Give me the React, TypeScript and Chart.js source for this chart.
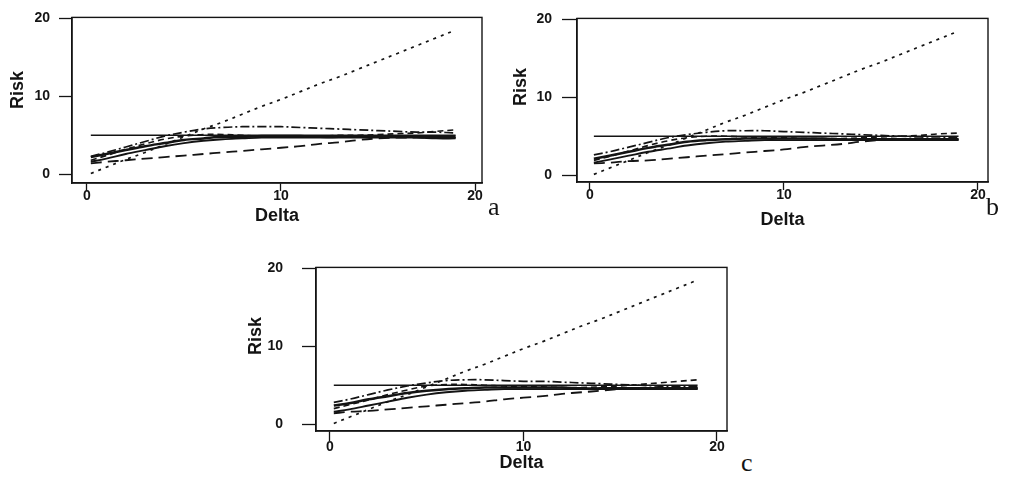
import React, { useEffect, useRef } from "react";
import { Chart, registerables } from "chart.js";

Chart.register(...registerables);

// ---------- data ----------
const deltaValues = [0.2, 1, 2, 3, 4, 5, 6, 7, 8, 9, 10, 11, 12, 13, 14, 15, 16, 17, 18, 19];
const xTickValues = [0, 10, 20];
const yTickValues = [0, 10, 20];
const xTitle = "Delta";
const yTitle = "Risk";
const panelLetters = ["a", "b", "c"];

// panel a
const aConstant = [5, 5, 5, 5, 5, 5, 5, 5, 5, 5, 5, 5, 5, 5, 5, 5, 5, 5, 5, 5];
const aDotted = [0.1, 0.9, 1.9, 2.8, 3.8, 4.8, 5.8, 6.7, 7.7, 8.7, 9.6, 10.6, 11.6, 12.5, 13.5, 14.5, 15.5, 16.5, 17.5, 18.5];
const aDashDot = [2.3, 2.8, 3.5, 4.2, 4.9, 5.4, 5.8, 6.0, 6.1, 6.1, 6.1, 6.0, 5.9, 5.8, 5.7, 5.6, 5.5, 5.4, 5.4, 5.3];
const aLongDash = [1.4, 1.6, 1.8, 2.0, 2.2, 2.4, 2.6, 2.8, 3.0, 3.2, 3.4, 3.6, 3.9, 4.1, 4.4, 4.6, 4.7, 4.7, 4.7, 4.7];
const aSolidUpper = [2.2, 2.6, 3.1, 3.6, 4.0, 4.4, 4.6, 4.8, 4.8, 4.9, 4.9, 4.9, 4.8, 4.8, 4.8, 4.8, 4.8, 4.8, 4.8, 4.8];
const aSolidLower = [1.6, 2.0, 2.6, 3.1, 3.6, 4.0, 4.3, 4.5, 4.6, 4.7, 4.7, 4.7, 4.7, 4.7, 4.7, 4.7, 4.7, 4.7, 4.6, 4.6];
const aShortDash = [1.8, 2.4, 3.2, 3.9, 4.5, 4.9, 5.1, 5.1, 5.0, 4.9, 4.9, 4.9, 4.9, 5.0, 5.0, 5.1, 5.2, 5.3, 5.5, 5.7];

// panel b
const bConstant = [5, 5, 5, 5, 5, 5, 5, 5, 5, 5, 5, 5, 5, 5, 5, 5, 5, 5, 5, 5];
const bDotted = [0.1, 0.9, 1.9, 2.9, 3.8, 4.8, 5.8, 6.8, 7.7, 8.7, 9.7, 10.6, 11.6, 12.6, 13.6, 14.5, 15.5, 16.5, 17.5, 18.5];
const bDashDot = [2.6, 3.0, 3.6, 4.2, 4.8, 5.2, 5.5, 5.7, 5.7, 5.7, 5.6, 5.5, 5.4, 5.3, 5.2, 5.1, 5.0, 4.9, 4.9, 4.8];
const bLongDash = [1.5, 1.6, 1.8, 1.9, 2.1, 2.3, 2.5, 2.7, 2.9, 3.1, 3.3, 3.6, 3.8, 4.0, 4.3, 4.5, 4.6, 4.6, 4.6, 4.6];
const bSolidUpper = [2.1, 2.5, 3.0, 3.5, 3.9, 4.3, 4.5, 4.6, 4.7, 4.7, 4.7, 4.7, 4.7, 4.6, 4.6, 4.6, 4.6, 4.6, 4.6, 4.6];
const bSolidLower = [1.6, 2.0, 2.5, 3.0, 3.4, 3.8, 4.1, 4.3, 4.4, 4.5, 4.5, 4.5, 4.5, 4.5, 4.5, 4.5, 4.5, 4.5, 4.5, 4.5];
const bShortDash = [1.9, 2.4, 3.1, 3.8, 4.4, 4.8, 5.0, 5.0, 4.9, 4.8, 4.8, 4.7, 4.7, 4.7, 4.8, 4.9, 5.0, 5.1, 5.3, 5.4];

// panel c
const cConstant = [5, 5, 5, 5, 5, 5, 5, 5, 5, 5, 5, 5, 5, 5, 5, 5, 5, 5, 5, 5];
const cDotted = [0.1, 0.9, 1.9, 2.9, 3.8, 4.8, 5.8, 6.8, 7.7, 8.7, 9.7, 10.6, 11.6, 12.6, 13.5, 14.5, 15.5, 16.5, 17.5, 18.5];
const cDashDot = [2.8, 3.2, 3.8, 4.4, 4.9, 5.3, 5.6, 5.7, 5.7, 5.6, 5.5, 5.5, 5.4, 5.3, 5.2, 5.1, 5.0, 4.9, 4.8, 4.8];
const cLongDash = [1.4, 1.6, 1.7, 1.9, 2.1, 2.3, 2.5, 2.7, 2.9, 3.2, 3.4, 3.6, 3.9, 4.1, 4.3, 4.5, 4.6, 4.6, 4.6, 4.6];
const cSolidUpper = [2.4, 2.7, 3.2, 3.6, 4.0, 4.3, 4.5, 4.6, 4.7, 4.7, 4.7, 4.7, 4.7, 4.6, 4.6, 4.6, 4.6, 4.6, 4.6, 4.6];
const cSolidLower = [1.6, 1.9, 2.4, 2.9, 3.4, 3.8, 4.1, 4.3, 4.4, 4.5, 4.5, 4.5, 4.5, 4.5, 4.5, 4.5, 4.5, 4.5, 4.5, 4.5];
const cShortDash = [2.0, 2.5, 3.1, 3.8, 4.4, 4.9, 5.1, 5.1, 5.0, 4.9, 4.8, 4.8, 4.7, 4.7, 4.8, 4.9, 5.1, 5.3, 5.5, 5.7];

// ---------- styling ----------
const INK = "#141414";
const SANS = "'Liberation Sans', Arial, sans-serif";

type SeriesSet = {
  constant: number[];
  dotted: number[];
  dashDot: number[];
  longDash: number[];
  solidUpper: number[];
  solidLower: number[];
  shortDash: number[];
};

type Layout = {
  left: number; top: number; width: number; height: number;
  boxLeft: number; boxTop: number; boxRight: number; boxBottom: number;
  xMin: number; xMax: number; yMin: number; yMax: number;
  yTickLen: number; yTickPad: number; xTickLen: number; xTickPad: number;
  yTitleX: number; yTitleY: number; xTitlePad: number;
  letterLeft: number; letterTop: number;
};

const panelSeries: SeriesSet[] = [
  { constant: aConstant, dotted: aDotted, dashDot: aDashDot, longDash: aLongDash, solidUpper: aSolidUpper, solidLower: aSolidLower, shortDash: aShortDash },
  { constant: bConstant, dotted: bDotted, dashDot: bDashDot, longDash: bLongDash, solidUpper: bSolidUpper, solidLower: bSolidLower, shortDash: bShortDash },
  { constant: cConstant, dotted: cDotted, dashDot: cDashDot, longDash: cLongDash, solidUpper: cSolidUpper, solidLower: cSolidLower, shortDash: cShortDash },
];

// yTitleX / yTitleY are page coordinates of the centre of the rotated "Risk" title
const panelLayouts: Layout[] = [
  { left: 0, top: 0, width: 500, height: 232, boxLeft: 72, boxTop: 12, boxRight: 482, boxBottom: 183,
    xMin: -0.77, xMax: 20.36, yMin: -1.12, yMax: 20.12, yTickLen: 13, yTickPad: 9, xTickLen: 8, xTickPad: -3,
    yTitleX: 18, yTitleY: 90, xTitlePad: 5, letterLeft: 488, letterTop: 194 },
  { left: 490, top: 0, width: 510, height: 232, boxLeft: 577, boxTop: 15, boxRight: 988, boxBottom: 182,
    xMin: -0.67, xMax: 20.52, yMin: -0.88, yMax: 20.13, yTickLen: 15, yTickPad: 10, xTickLen: 8, xTickPad: -3,
    yTitleX: 521, yTitleY: 87, xTitlePad: 1, letterLeft: 986, letterTop: 194 },
  { left: 240, top: 240, width: 500, height: 237, boxLeft: 316, boxTop: 262, boxRight: 727, boxBottom: 431,
    xMin: -0.72, xMax: 20.52, yMin: -0.87, yMax: 20.12, yTickLen: 14, yTickPad: 19, xTickLen: 10, xTickPad: -2,
    yTitleX: 256, yTitleY: 336, xTitlePad: 3, letterLeft: 741, letterTop: 450 },
];

const framePlugin = {
  id: "frameBox",
  afterDatasetsDraw(chart: any) {
    const { ctx, chartArea } = chart;
    ctx.save();
    ctx.strokeStyle = INK;
    ctx.lineWidth = 1.4;
    ctx.strokeRect(chartArea.left, chartArea.top, chartArea.right - chartArea.left, chartArea.bottom - chartArea.top);
    ctx.restore();
  },
};

function makeYTitlePlugin(L: Layout) {
  return {
    id: "yTitle",
    afterDraw(chart: any) {
      const { ctx } = chart;
      ctx.save();
      ctx.translate(L.yTitleX - L.left, L.yTitleY - L.top);
      ctx.rotate(-Math.PI / 2);
      ctx.fillStyle = INK;
      ctx.font = `bold 18px ${SANS}`;
      ctx.textAlign = "center";
      ctx.textBaseline = "middle";
      ctx.fillText(yTitle, 0, 0);
      ctx.restore();
    },
  };
}

function toPoints(values: number[]) {
  return deltaValues.map((d, i) => ({ x: d, y: values[i] }));
}

function buildDatasets(s: SeriesSet) {
  const base = { borderColor: INK, backgroundColor: INK, pointRadius: 0, fill: false, tension: 0.35 };
  return [
    { ...base, label: "constant", data: toPoints(s.constant), borderWidth: 1.5 },
    { ...base, label: "dotted", data: toPoints(s.dotted), borderWidth: 1.7, borderDash: [3, 5] },
    { ...base, label: "dash-dot", data: toPoints(s.dashDot), borderWidth: 1.7, borderDash: [9, 3, 2, 3] },
    { ...base, label: "long dash", data: toPoints(s.longDash), borderWidth: 1.8, borderDash: [11, 6] },
    { ...base, label: "solid upper", data: toPoints(s.solidUpper), borderWidth: 2.5 },
    { ...base, label: "solid lower", data: toPoints(s.solidLower), borderWidth: 1.9 },
    { ...base, label: "short dash", data: toPoints(s.shortDash), borderWidth: 1.6, borderDash: [6, 4] },
  ];
}

function Panel({ layout, series }: { layout: Layout; series: SeriesSet }) {
  const ref = useRef<HTMLCanvasElement | null>(null);
  useEffect(() => {
    if (!ref.current) return;
    const L = layout;
    const tickFont = { family: SANS, size: 14, weight: "bold" as const };
    const titleFont = { family: SANS, size: 18, weight: "bold" as const };
    const chart = new Chart(ref.current, {
      type: "line",
      data: { datasets: buildDatasets(series) as any },
      plugins: [framePlugin, makeYTitlePlugin(L)],
      options: {
        animation: false,
        responsive: false,
        devicePixelRatio: 1,
        events: [],
        layout: {
          padding: { left: 0, top: L.boxTop - L.top, right: L.left + L.width - L.boxRight, bottom: 0 },
        },
        plugins: { legend: { display: false }, tooltip: { enabled: false }, title: { display: false } },
        scales: {
          x: {
            type: "linear",
            min: L.xMin,
            max: L.xMax,
            afterBuildTicks: (sc: any) => { sc.ticks = xTickValues.map((v) => ({ value: v })); },
            afterFit: (sc: any) => { sc.height = L.top + L.height - L.boxBottom; },
            grid: { display: true, drawOnChartArea: false, drawTicks: true, tickLength: L.xTickLen, color: INK, tickWidth: 1.3 } as any,
            border: { display: true, color: INK, width: 1.4 },
            ticks: { color: INK, font: tickFont, padding: L.xTickPad, maxRotation: 0, autoSkip: false },
            title: { display: true, text: xTitle, color: INK, font: titleFont, padding: { top: 0, bottom: L.xTitlePad } },
          },
          y: {
            type: "linear",
            min: L.yMin,
            max: L.yMax,
            afterBuildTicks: (sc: any) => { sc.ticks = yTickValues.map((v) => ({ value: v })); },
            afterFit: (sc: any) => { sc.width = L.boxLeft - L.left; },
            grid: { display: true, drawOnChartArea: false, drawTicks: true, tickLength: L.yTickLen, color: INK, tickWidth: 1.3 } as any,
            border: { display: true, color: INK, width: 1.4 },
            ticks: { color: INK, font: tickFont, padding: L.yTickPad, autoSkip: false },
            title: { display: false, text: yTitle },
          },
        },
      } as any,
    });
    return () => chart.destroy();
  }, [layout, series]);

  return (
    <canvas
      ref={ref}
      width={layout.width}
      height={layout.height}
      style={{ position: "absolute", left: layout.left, top: layout.top, width: layout.width, height: layout.height }}
    />
  );
}

export default function App() {
  return (
    <div style={{ position: "absolute", left: 0, top: 0, width: 1013, height: 477, background: "#fff", overflow: "hidden" }}>
      {panelLayouts.map((L, i) => (
        <Panel key={i} layout={L} series={panelSeries[i]} />
      ))}
      {panelLayouts.map((L, i) => (
        <div
          key={"l" + i}
          style={{
            position: "absolute",
            left: L.letterLeft,
            top: L.letterTop,
            fontFamily: "'Liberation Serif', 'DejaVu Serif', serif",
            fontSize: 26,
            lineHeight: 1,
            color: INK,
          }}
        >
          {panelLetters[i]}
        </div>
      ))}
    </div>
  );
}
